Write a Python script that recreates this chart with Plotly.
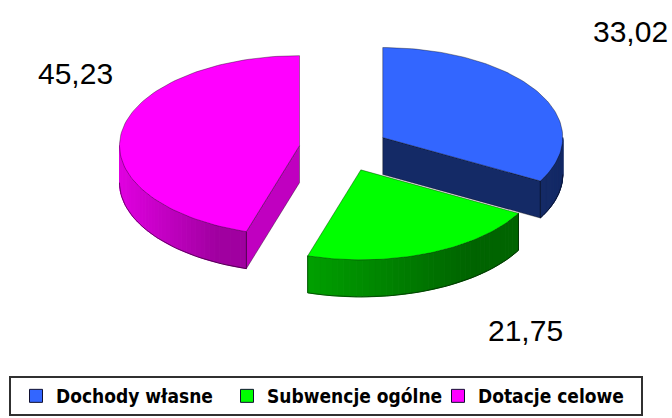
import math
import plotly.graph_objects as go

categories = ["Dochody własne", "Subwencje ogólne", "Dotacje celowe"]
values = [33.02, 21.75, 45.23]
value_labels = ["33,02", "21,75", "45,23"]
top_colors = ["#3366ff", "#00ff00", "#ff00ff"]
# wall shade stops, left-to-right along the visible rim
wall_left = ["#142a66", "#00a000", "#e000e0"]
wall_right = ["#142a66", "#006400", "#a000a0"]
cut_colors = ["#142a66", "#006400", "#c000c0"]

CX, CY, RX, RY, EXPLODE, DEPTH = 344, 149, 180, 90, 45, 37
LABEL_POS = [(630, 31), (525, 330), (75, 73)]
W, H = 672, 418


def rim(cx, cy, t):
    return cx + RX * math.sin(t), cy - RY * math.cos(t)


def lerp_hex(a, b, f):
    ca = [int(a[i:i + 2], 16) for i in (1, 3, 5)]
    cb = [int(b[i:i + 2], 16) for i in (1, 3, 5)]
    return "#%02x%02x%02x" % tuple(round(x + (y - x) * f) for x, y in zip(ca, cb))


fig = go.Figure()
total = sum(values)
angles = []
acc = 0.0
for v in values:
    start = acc / total * 2 * math.pi
    acc += v
    angles.append((start, acc / total * 2 * math.pi))

centers = []
for a0, a1 in angles:
    mid = (a0 + a1) / 2
    centers.append((CX + EXPLODE * math.sin(mid), CY - EXPLODE * RY / RX * math.cos(mid)))

OUT = "rgba(0,0,0,0.6)"


def poly(xs, ys, fill, line=OUT, width=0.6):
    fig.add_trace(go.Scatter(x=xs, y=ys, mode="lines", fill="toself", fillcolor=fill,
                             line=dict(color=line, width=width),
                             showlegend=False, hoverinfo="skip"))


def edge(xs, ys):
    fig.add_trace(go.Scatter(x=xs, y=ys, mode="lines", line=dict(color=OUT, width=0.8),
                             showlegend=False, hoverinfo="skip"))


for i in (2, 0, 1):
    a0, a1 = angles[i]
    cx, cy = centers[i]
    # cut face at the slice's start or end that faces the viewer
    cut = a1 if i == 0 else a0 if i == 2 else None
    if cut is not None:
        px, py = rim(cx, cy, cut)
        poly([cx, px, px, cx, cx], [cy, py, py + DEPTH, cy + DEPTH, cy], cut_colors[i])
    # outer wall, in shaded strips
    lo, hi = max(a0, math.pi / 2), min(a1, 3 * math.pi / 2)
    n = 40
    xl = min(rim(cx, cy, lo)[0], rim(cx, cy, hi)[0])
    xr = max(rim(cx, cy, lo)[0], rim(cx, cy, hi)[0])
    bottom = []
    for k in range(n):
        t0 = lo + (hi - lo) * k / n
        t1 = lo + (hi - lo) * (k + 1) / n
        x0, y0 = rim(cx, cy, t0)
        x1, y1 = rim(cx, cy, t1)
        f = ((x0 + x1) / 2 - xl) / max(xr - xl, 1)
        col = lerp_hex(wall_left[i], wall_right[i], min(1, f * 1.3))
        poly([x0, x1, x1, x0, x0], [y0, y1, y1 + DEPTH, y0 + DEPTH, y0], col, line=col, width=1)
        bottom.append((x0, y0 + DEPTH))
    bottom.append((x1, y1 + DEPTH))
    edge([p[0] for p in bottom], [p[1] for p in bottom])
    for t in (lo, hi):
        x, y = rim(cx, cy, t)
        if abs(math.sin(t)) < 0.99:
            edge([x, x], [y, y + DEPTH])
    # top face
    steps = [a0 + (a1 - a0) * k / 90 for k in range(91)]
    pts = [rim(cx, cy, t) for t in steps]
    poly([cx] + [p[0] for p in pts] + [cx], [cy] + [p[1] for p in pts] + [cy], top_colors[i])

for i, cat in enumerate(categories):
    fig.add_trace(go.Scatter(x=[None], y=[None], mode="markers", name=cat,
                             marker=dict(symbol="square", size=13, color=top_colors[i],
                                         line=dict(color="#101030", width=1))))

for (x, y), txt in zip(LABEL_POS, value_labels):
    fig.add_annotation(x=x, y=y, text=txt, showarrow=False,
                       font=dict(family="Liberation Sans", size=30, color="#000000"))

fig.add_shape(type="rect", x0=10, x1=642, y0=377, y1=415,
              line=dict(color="#303030", width=2), fillcolor="white", layer="below")

fig.update_layout(
    width=W, height=H, autosize=False, paper_bgcolor="white", plot_bgcolor="white",
    margin=dict(l=0, r=0, t=0, b=0, autoexpand=False),
    xaxis=dict(range=[0, W], visible=False, fixedrange=True),
    yaxis=dict(range=[H, 0], visible=False, fixedrange=True),
    showlegend=True,
    legend=dict(orientation="h", x=16 / W, y=1 - 396 / H,
                xanchor="left", yanchor="middle",
                bgcolor="rgba(0,0,0,0)", borderwidth=0,
                entrywidth=166, entrywidthmode="pixels", itemwidth=30,
                font=dict(family="DejaVu Sans Condensed, DejaVu Sans", size=19,
                          color="#000000", weight="bold")),
)
fig.write_html("out.html", config={"displayModeBar": False},
               post_script="document.body.style.margin='0';")
